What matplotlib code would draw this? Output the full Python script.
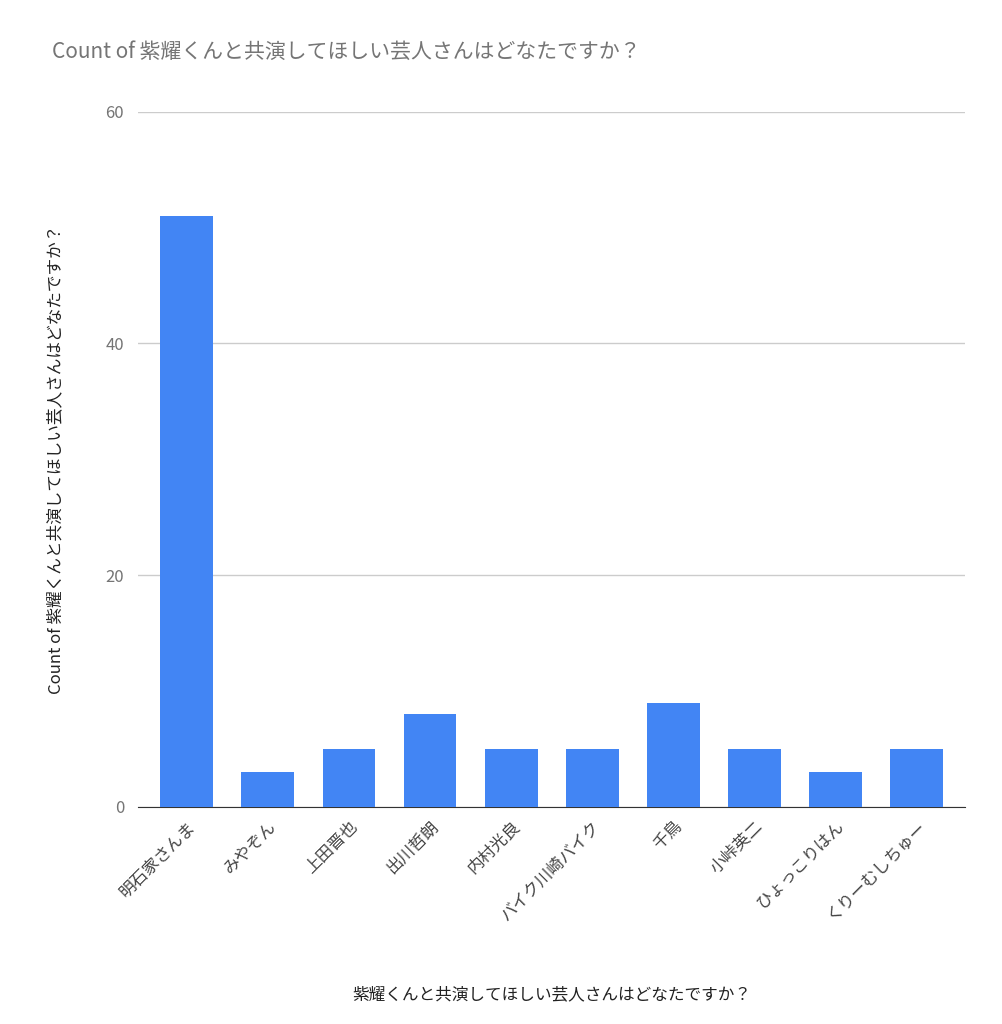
import matplotlib.pyplot as plt

plt.rcParams["font.family"] = ["Noto Sans CJK JP"]

names = ["明石家さんま", "みやぞん", "上田晋也", "出川哲朗", "内村光良",
         "バイク川崎バイク", "千鳥", "小峠英二", "ひょっこりはん", "くりーむしちゅー"]
counts = [51, 3, 5, 8, 5, 5, 9, 5, 3, 5]
yticks = [0, 20, 40, 60]

question = "紫耀くんと共演してほしい芸人さんはどなたですか？"

fig = plt.figure(figsize=(10.03, 10.24), dpi=100)
ax = fig.add_axes([0.1376, 0.212, 0.825, 0.679])

ax.bar(range(len(names)), counts, width=0.65, color="#4285F4", zorder=3)
ax.set_xlim(-0.6, len(names) - 0.4)
ax.set_ylim(0, 60)
ax.set_yticks(yticks)
ax.grid(axis="y", color="#cccccc", linewidth=1, zorder=0)
ax.set_xticks(range(len(names)))
ax.set_xticklabels(names, rotation=45, ha="right", rotation_mode="anchor",
                   fontsize=12, color="#444444")
ax.tick_params(axis="y", labelcolor="#757575", labelsize=12, length=0, pad=10)
ax.tick_params(axis="x", length=0, pad=8)
for s in ["top", "right", "left"]:
    ax.spines[s].set_visible(False)
ax.spines["bottom"].set_color("#333333")

ax.set_xlabel(question, fontsize=12, color="#222222", labelpad=45)
ax.set_ylabel("Count of " + question, fontsize=12, color="#222222", labelpad=30)
fig.text(0.052, 0.949, "Count of " + question, fontsize=15, color="#757575",
         va="center")

fig.savefig("out.png", dpi=100, facecolor="white")
